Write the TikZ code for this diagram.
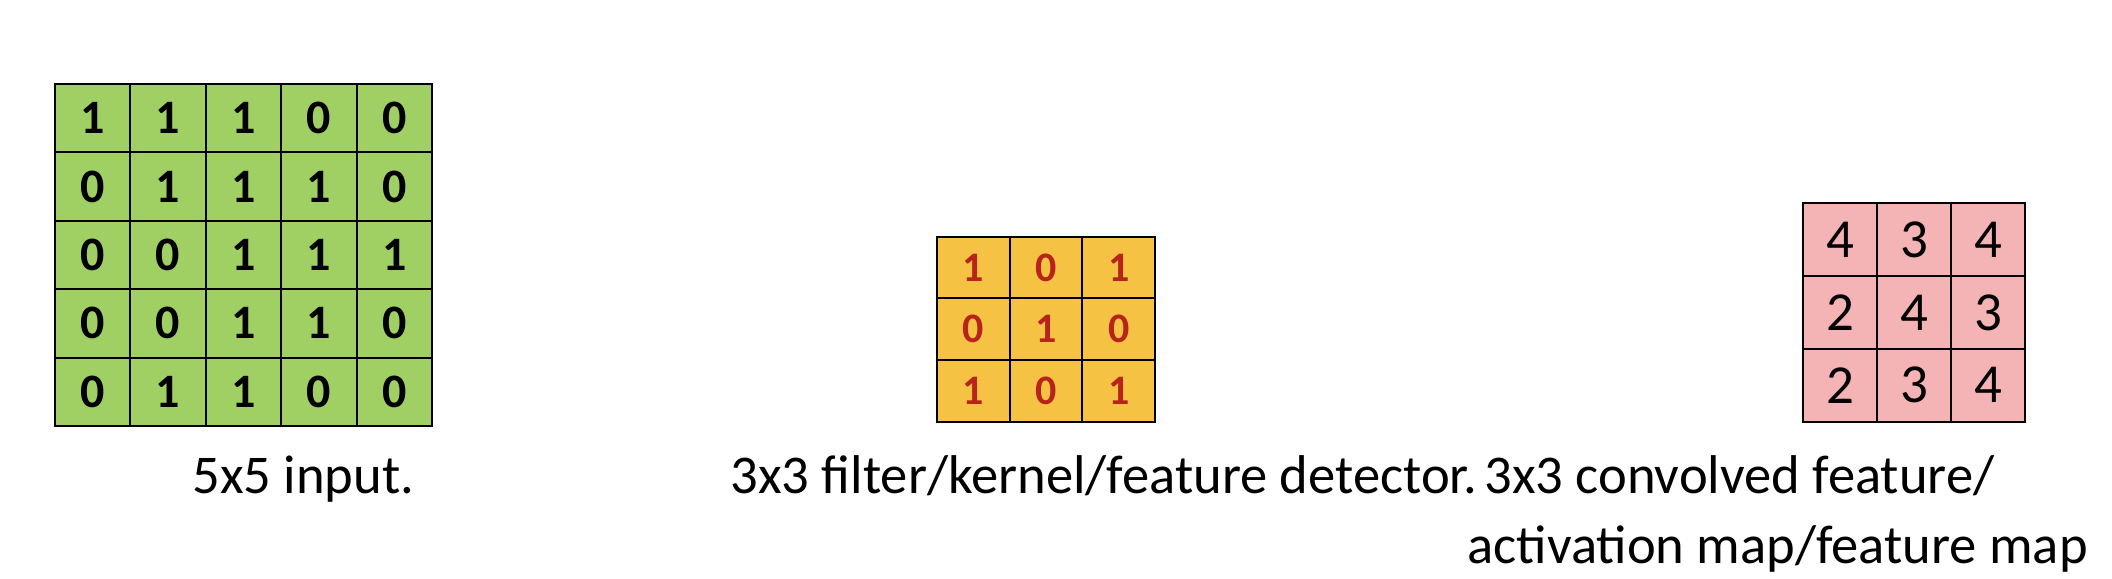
\documentclass[tikz,border=0pt]{standalone}
\usepackage{fontspec}
\setmainfont{Carlito}
\definecolor{gfill}{HTML}{A0CF63}
\definecolor{yfill}{HTML}{F6C243}
\definecolor{pfill}{HTML}{F4B3B4}
\definecolor{rtext}{HTML}{B8241C}
\tikzset{
  cellbase/.style={draw=black, line width=1pt, inner sep=0pt, anchor=center},
  gcell/.style={cellbase, fill=gfill, minimum width=37.7pt, minimum height=34.2pt,
    font=\fontsize{24}{28}\selectfont\bfseries},
  ycell/.style={cellbase, fill=yfill, minimum width=36.3pt, minimum height=30.8pt,
    text=rtext, font=\fontsize{21}{25}\selectfont\bfseries},
  pcell/.style={cellbase, fill=pfill, minimum width=37pt, minimum height=36.4pt,
    font=\fontsize{27.5}{32}\selectfont},
  caption/.style={anchor=base west, inner sep=0pt, font=\fontsize{27.3}{32}\selectfont}
}
\begin{document}
\begin{tikzpicture}[x=0.5pt,y=-0.5pt]
\useasboundingbox (0,0) rectangle (2112,578);
% 5x5 input
\foreach \row [count=\i from 0] in {{1,1,1,0,0},{0,1,1,1,0},{0,0,1,1,1},{0,0,1,1,0},{0,1,1,0,0}}{
  \foreach \v [count=\j from 0] in \row {
    \node[gcell] (g-\i-\j) at ({55+75.4*(\j+0.5)},{84+68.4*(\i+0.5)}) {\v};
  }
}
% 3x3 filter
\foreach \row [count=\i from 0] in {{1,0,1},{0,1,0},{1,0,1}}{
  \foreach \v [count=\j from 0] in \row {
    \node[ycell] (y-\i-\j) at ({937+72.67*(\j+0.5)},{236.7+61.67*(\i+0.5)}) {\v};
  }
}
% 3x3 feature map
\foreach \row [count=\i from 0] in {{4,3,4},{2,4,3},{2,3,4}}{
  \foreach \v [count=\j from 0] in \row {
    \node[pcell] (p-\i-\j) at ({1803+74*(\j+0.5)},{203.3+72.8*(\i+0.5)}) {\v};
  }
}
\node[caption] (cap1) at (192,493) {5x5 input.};
\node[caption] (cap2) at (730,493) {3x3 filter/kernel/feature detector.};
\node[caption] (cap3) at (1484,493) {3x3 convolved feature/};
\node[caption] (cap4) at (1467,563) {activation map/feature map};
\end{tikzpicture}
\end{document}
